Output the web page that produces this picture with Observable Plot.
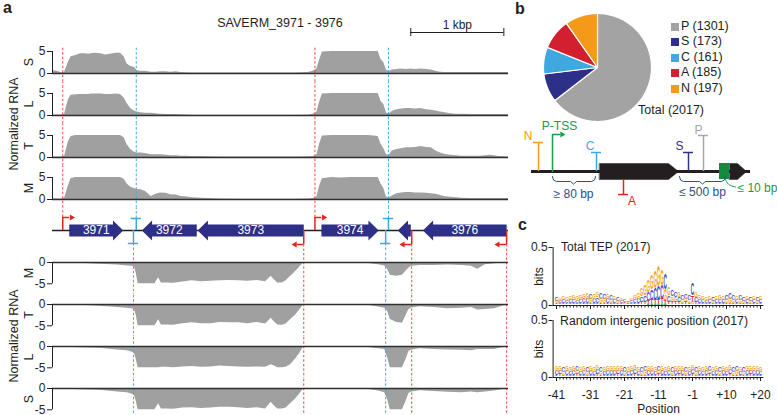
<!DOCTYPE html>
<html>
<head>
<meta charset="utf-8">
<script src="https://cdn.jsdelivr.net/npm/d3@7"></script>
<script src="https://cdn.jsdelivr.net/npm/@observablehq/plot@0.6"></script>
<style>
  html, body { margin: 0; padding: 0; background: #fff; }
  #fig { position: relative; width: 777px; height: 415px; overflow: hidden; background: #fff;
         font-family: "Liberation Sans", Arial, Helvetica, sans-serif; color: #231f20; }
</style>
</head>
<body>
<div id="fig"></div>
<script>
const FONT = '"Liberation Sans", Arial, Helvetica, sans-serif';
const INK = "#231f20", GRAY = "#a0a0a0", RED = "#e3241b", REDDASH = "#ef4a3c", SKY = "#3ea8df",
      NAVY = "#2e2f86", ORANGE = "#f49a18", GREEN = "#1b9a4a", BRACE = "#2c5186";

// ---------------- panel a data ----------------
const xDomainBp = [0, 4900];
const topTrackNames = ["S", "L", "T", "M"];
const topPos = [0,50,100,130,170,200,250,300,350,390,420,460,520,570,620,680,730,770,800,840,880,910,950,1000,1060,1110,1160,1220,1270,1330,1380,1430,1500,1600,1800,2000,2200,2400,2600,2750,2800,2840,2870,2900,3000,3100,3200,3300,3400,3500,3530,3560,3590,3620,3650,3700,3750,3800,3850,3900,3960,4020,4070,4120,4170,4220,4280,4340,4400,4500,4600,4700,4800,4900];
const topS = [0.6,0.5,0.15,0.3,2.5,3.8,4.1,4.5,4.5,4.4, 4.5,4.6,4.5,4.2,4.4,4.6,4.6,3.8,2.2,1.6, 1.4,0.6,0.5,0.5,0.3,0.3,0.4,0.4,0.3,0.4, 0.2,0.15,0.1,0.1,0.1,0.1,0.1,0.1,0.1,0.2, 0.5,1.0,3.0,4.9,5,5,5,5,5,5, 3.2,2.5,0.7,0.5,0.8,0.9,1.0,0.9,1.0,0.9, 1.0,0.9,0.8,0.5,0.3,0.2,0.2,0.2,0.2,0.2, 0.2,0.2,0.2,0.2];
const topL = [0.1,0.1,0.1,0.3,3.5,4.6,4.7,4.8,4.8,4.8, 4.9,4.9,4.9,4.8,4.8,4.9,4.8,4.0,2.8,1.6, 1.0,0.8,0.6,0.5,0.5,0.4,0.3,0.2,0.2,0.2, 0.15,0.1,0.05,0.05,0.05,0.05,0.05,0.05,0.05,0.1, 0.3,0.7,3.0,4.9,5,5,5,5,5,5, 3.2,2.5,0.5,0.4,0.9,1.3,1.5,1.6,1.6,1.5, 1.6,1.3,1.2,1.0,0.8,0.6,0.4,0.3,0.3,0.2, 0.2,0.2,0.2,0.2];
const topT = [0.1,0.1,0.1,0.3,3.5,4.8,5,5,5,5, 5,5,5,5,5,5,5,4.5,3.0,1.8, 1.2,1.0,1.0,0.9,0.6,0.6,0.6,0.5,0.4,0.4, 0.3,0.3,0.2,0.2,0.1,0.1,0.1,0.1,0.1,0.15, 0.2,0.5,3.0,4.9,5,5,5,5,5,4.8, 3.0,2.0,0.6,0.5,1.5,1.8,2.0,2.2,2.2,2.3, 2.5,2.3,2.2,1.5,1.0,0.7,0.5,0.4,0.3,0.3, 0.3,0.5,0.2,0.1];
const topM = [0.1,0.1,0.1,0.3,3.0,4.8,5,5,5,5, 5,5,5,5,5,5,5,4.6,3.6,2.8, 2.5,2.3,2.2,1.8,0.7,1.2,1.5,1.4,1.1,1.0, 0.7,0.6,0.4,0.3,0.1,0.05,0.05,0.05,0.05,0.1, 0.2,0.5,3.0,4.7,5,4.9,5,5,5,5, 3.5,2.5,0.5,0.4,0.8,1.3,1.5,1.6,1.6,1.5, 1.5,1.4,1.3,1.2,0.9,0.6,0.5,0.4,0.3,0.2, 0.2,0.2,0.2,0.2];

const bottomTrackNames = ["M", "T", "L", "S"];
const bottomPos = [0,300,500,700,800,850,880,900,920,1000,1100,1140,1170,1220,1300,1400,1500,1600,1700,1800,1900,2000,2100,2200,2290,2350,2380,2420,2470,2510,2560,2610,2660,2700,3000,3300,3420,3500,3570,3600,3630,3700,3760,3800,3830,3860,3950,4100,4250,4400,4500,4570,4650,4750,4850,4900];
const bottomM = [0,0.2,0.4,0.6,0.8,0.9,1.0,2.5,5,5, 5,3.6,4.8,4.8,4.9,4.6,4.3,4.5,4.4,4.3, 4.2,4.3,4.4,4.2,4.5,3.2,4.0,4.8,4.8,4.3, 3.2,2.2,1.0,0,0,0,0.3,0.5,0.8,1.5, 3.0,3.2,3.0,2.0,1.3,0.9,0.7,0.7,0.6,0.7, 0.9,1.6,0.5,0.3,0.1,0];
const bottomT = [0,0.2,0.4,0.7,0.9,1.0,1.1,2.5,5,5, 5,3.6,4.8,4.8,4.9,4.5,4.3,4.5,4.5,4.2, 4.3,4.3,4.5,4.2,4.6,3.2,4.0,4.8,4.9,4.6, 3.5,2.5,1.2,0,0,0,0.3,0.6,0.9,1.5, 3.5,4.2,4.4,2.5,1.2,0.8,0.5,0.7,1.0,0.9, 0.7,1.3,1.2,1.0,0.3,0];
const bottomL = [0,0.3,0.4,0.8,1.0,1.3,1.5,3.0,5,5, 5,5,4.9,4.9,5,4.8,4.7,4.9,4.8,4.6, 4.7,4.8,4.9,4.8,4.9,4.3,4.5,5,5,4.9, 4.2,3.0,1.5,0,0,0.05,0.3,0.5,0.7,2.5, 5,5,5,3.0,1.2,0.8,0.5,0.7,0.8,0.9, 1.0,0.7,0.7,0.7,0.2,0];
const bottomS = [0,0.3,0.4,0.8,1.0,1.3,1.5,3.0,5,5, 5,3.6,4.8,4.8,4.9,4.6,4.5,4.7,4.6,4.4, 4.4,4.5,4.7,4.5,4.8,3.2,4.0,4.8,4.8,4.6, 3.5,2.5,1.2,0,0,0.05,0.3,0.6,1.0,2.5, 5,5,5,3.0,1.2,0.8,0.5,0.7,0.9,1.0, 0.8,1.0,0.8,0.6,0.2,0];

const tssForward = [110, 2820];
const tssReverse = [2700, 3860, 4880];
const termForward = [900, 3610];
const termReverse = [870, 3580];
const geneIds = ["3971", "3972", "3973", "3974", "3975", "3976"];
const geneStart = [180, 960, 1560, 2890, 3710, 3980];
const geneEnd = [760, 1550, 2700, 3505, 3850, 4880];
const geneStrand = [1, -1, -1, 1, -1, -1];
const scaleBarStart = 3850, scaleBarLength = 1000;

// ---------------- panel b data ----------------
const pieCats = ["P", "S", "C", "A", "N"];
const pieCounts = [1301, 173, 161, 185, 197];
const pieColors = ["#a3a3a3", "#2e2f86", "#3ea8df", "#d2202f", "#f49a18"];

// ---------------- panel c data (bits x 100) ----------------
const BASES = ["A", "C", "G", "T"];
const LOGO_COLORS = ["#2ea44f", "#3a45c8", "#f5a21f", "#e3262b"];
const logoTickIdx = [0, 10, 20, 30, 40, 50, 60];
const logoTickLabels = ["-41", "-31", "-21", "-11", "-1", "+10", "+20"];
const tepA = [1,1,1,1,1,1,1,1,1,1, 1,1,1,1,1,1,1,1,1,1, 1,1,1,1,1,1,1,2,2,2, 2,3,2,1,1,1,1,1,1,1, 1, 1,1,1,1,1,1,1,1,1,1, 1,1,1,1,1,1,1,1,1,1];
const tepC = [3,2,3,2,3,3,2,3,4,4, 5,4,5,6,5,4,4,3,3,2, 2,1,2,3,4,5,6,8,9,10, 12,12,14,6,6,5,4,4,4,4, 10, 4,3,3,2,3,3,3,3,3,5, 6,4,3,4,3,3,3,3,3,3];
const tepG = [2,2,3,3,3,4,4,5,5,6, 4,4,5,4,4,4,3,3,2,2, 1,1,2,4,6,7,9,10,13,15, 18,14,10,7,5,4,4,3,3,3, 2, 5,4,3,3,3,2,3,4,3,3, 4,3,3,3,2,3,2,3,2,3];
const tepT = [1,1,1,1,1,1,1,1,1,1, 1,1,1,1,1,1,1,1,1,1, 1,1,1,1,1,2,2,2,3,3, 3,3,2,2,2,2,2,1,2,1, 6, 2,1,1,1,1,1,1,1,1,1, 1,1,1,1,1,1,1,1,1,1];
const rndA = [1,1,1,1,1,1,1,1,1,1, 1,1,1,1,1,1,1,1,1,1, 1,1,1,1,1,1,1,1,1,1, 1,1,1,1,1,1,1,1,1,1, 1, 1,1,1,1,1,1,1,1,1,1, 1,1,1,1,1,1,1,1,1,1];
const rndC = [4,3,4,4,3,4,4,3,4,5, 4,3,4,4,3,4,4,4,3,4, 4,3,4,4,3,4,5,4,4,3, 4,4,3,4,4,4,3,4,4,3, 4, 5,4,3,4,4,3,4,4,4,3, 4,4,5,3,4,4,3,4,4,3];
const rndG = [4,4,3,5,4,4,3,5,4,3, 4,5,4,3,4,4,5,4,4,5, 3,4,4,4,5,3,4,4,5,4, 3,4,5,4,3,4,5,4,3,4, 4, 3,4,5,4,3,5,4,3,4,5, 4,3,4,4,3,5,4,4,4,5];
const rndT = [1,2,1,1,1,1,2,1,1,1, 1,1,2,1,1,1,1,1,2,1, 1,1,1,2,1,1,1,1,1,1, 2,1,1,1,1,1,2,1,1,1, 2, 1,1,1,1,2,1,1,1,1,1, 2,1,1,1,1,1,2,1,1,1];

// ---------------- helpers ----------------
const fig = document.getElementById("fig");
function place(node, left, top) {
  node.style.position = "absolute";
  node.style.left = left + "px";
  node.style.top = top + "px";
  node.style.background = "transparent";
  node.style.overflow = "hidden";
  node.style.maxWidth = "none";
  fig.appendChild(node);
  return node;
}
function addText(str, {x, baseline, size = 12, weight = 400, color = INK, anchor = "start"}) {
  const d = document.createElement("div");
  d.textContent = str;
  d.style.cssText = `position:absolute;left:${x}px;top:${baseline - 0.8465 * size}px;font-size:${size}px;line-height:${size}px;font-weight:${weight};color:${color};white-space:nowrap;` +
    (anchor === "middle" ? "transform:translateX(-50%);" : anchor === "end" ? "transform:translateX(-100%);" : "");
  fig.appendChild(d);
  return d;
}
function addVText(str, {cx, cy, size = 12.5}) {
  const d = document.createElement("div");
  d.textContent = str;
  d.style.cssText = `position:absolute;left:${cx}px;top:${cy}px;font-size:${size}px;line-height:${size}px;white-space:nowrap;transform:translate(-50%,-50%) rotate(-90deg);`;
  fig.appendChild(d);
}
const baseStyle = {fontFamily: FONT, fontSize: "12px", color: INK, background: "transparent"};

// ---------------- panel a: coverage tracks ----------------
function trackPlot(pos, vals, strand, isFirst) {
  const up = strand > 0;
  const data = pos.map((p, i) => ({p, v: up ? vals[i] : -vals[i]}));
  const reds = up ? tssForward : tssReverse;
  const blues = up ? termForward : termReverse;
  const y1 = up ? -3 : -9, y2 = up ? (isFirst ? 6 : 9) : 4;
  return Plot.plot({
    width: 520, height: 42, marginLeft: 52, marginRight: 12, marginTop: 0, marginBottom: 0,
    style: baseStyle,
    x: {domain: xDomainBp, axis: null},
    y: up ? {domain: [0, 5], insetTop: 11, insetBottom: 9} : {domain: [-5, 0], insetTop: 10, insetBottom: 10.7},
    marks: [
      Plot.areaY(data, {x: "p", y: "v", fill: GRAY}),
      Plot.ruleX(reds, {x: d => d, y1: () => y1, y2: () => y2, stroke: REDDASH, strokeWidth: 1, strokeDasharray: "2.5,2"}),
      Plot.ruleX(blues, {x: d => d, y1: () => y1, y2: () => y2, stroke: SKY, strokeWidth: 1, strokeDasharray: "2.5,2"}),
      Plot.ruleY([0], {stroke: "#2f2f2f", strokeWidth: 1.6}),
      Plot.ruleX([0], {y1: () => (up ? 0 : -5), y2: () => (up ? 5 : 0), stroke: INK, strokeWidth: 1}),
      Plot.axisY({ticks: up ? [0, 5] : [0, -5], tickSize: 5, tickPadding: 2, tickFormat: d => String(d), label: null, fontSize: 12})
    ]
  });
}
const topVals = [topS, topL, topT, topM];
topTrackNames.forEach((n, k) => {
  place(trackPlot(topPos, topVals[k], 1, k === 0), 0, 40 + 42 * k);
  addVText(n, {cx: 28.5, cy: 40 + 42 * k + 22, size: 12.5});
});
const botVals = [bottomM, bottomT, bottomL, bottomS];
bottomTrackNames.forEach((n, k) => {
  place(trackPlot(bottomPos, botVals[k], -1, false), 0, 252 + 42 * k);
  addVText(n, {cx: 28.5, cy: 252 + 42 * k + 20.5, size: 12.5});
});

// ---------------- panel a: gene map ----------------
const HEAD = 110;
const genePolys = geneIds.flatMap((id, i) => {
  const s = geneStart[i], e = geneEnd[i];
  const h = Math.min(HEAD, (e - s) * 0.8);
  const pts = geneStrand[i] > 0
    ? [[s, -6], [e - h, -6], [e - h, -10], [e, 0], [e - h, 10], [e - h, 6], [s, 6]]
    : [[e, -6], [s + h, -6], [s + h, -10], [s, 0], [s + h, 10], [s + h, 6], [e, 6]];
  return pts.map(([x, y]) => ({id, x, y}));
});
const geneLabels = geneIds.map((id, i) => ({id, x: (geneStart[i] + geneEnd[i]) / 2, len: geneEnd[i] - geneStart[i]})).filter(d => d.len > 300);
const geneMap = Plot.plot({
  width: 520, height: 44, marginLeft: 52, marginRight: 12, marginTop: 0, marginBottom: 0,
  style: baseStyle,
  x: {domain: xDomainBp, axis: null},
  y: {domain: [-22, 22], axis: null},
  marks: [
    Plot.ruleX(tssForward, {x: d => d, y1: () => 13, y2: () => 22, stroke: REDDASH, strokeDasharray: "2.5,2"}),
    Plot.ruleX(termForward, {x: d => d, y1: () => 12, y2: () => 22, stroke: SKY, strokeDasharray: "2.5,2"}),
    Plot.ruleX(tssReverse, {x: d => d, y1: () => -14, y2: () => -22, stroke: REDDASH, strokeDasharray: "2.5,2"}),
    Plot.ruleX(termReverse, {x: d => d, y1: () => -13, y2: () => -22, stroke: SKY, strokeDasharray: "2.5,2"}),
    Plot.ruleY([0], {stroke: INK, strokeWidth: 1.5}),
    Plot.line(genePolys, {x: "x", y: "y", z: "id", fill: NAVY, stroke: "none", curve: "linear-closed"}),
    Plot.text(geneLabels, {x: "x", y: () => 0, text: "id", fill: "white", fontSize: 12, lineAnchor: "middle"}),
    Plot.ruleX(tssForward, {x: d => d, y1: () => 0, y2: () => 13, stroke: RED, strokeWidth: 1.5}),
    Plot.ruleY(tssForward, {y: () => 13, x1: d => d, x2: d => d + 75, stroke: RED, strokeWidth: 1.5}),
    Plot.dot(tssForward, {x: d => d + 95, y: () => 13, symbol: "triangle", r: 2.2, fill: RED, stroke: "none", rotate: 90}),
    Plot.ruleX(tssReverse, {x: d => d, y1: () => 0, y2: () => -14, stroke: RED, strokeWidth: 1.5}),
    Plot.ruleY(tssReverse, {y: () => -14, x1: d => d, x2: d => d - 75, stroke: RED, strokeWidth: 1.5}),
    Plot.dot(tssReverse, {x: d => d - 95, y: () => -14, symbol: "triangle", r: 2.2, fill: RED, stroke: "none", rotate: -90}),
    Plot.ruleX(termForward, {x: d => d, y1: () => 0, y2: () => 12, stroke: SKY, strokeWidth: 1.5}),
    Plot.ruleY(termForward, {y: () => 12, x1: d => d - 55, x2: d => d + 55, stroke: SKY, strokeWidth: 1.5}),
    Plot.ruleX(termReverse, {x: d => d, y1: () => 0, y2: () => -13, stroke: SKY, strokeWidth: 1.5}),
    Plot.ruleY(termReverse, {y: () => -13, x1: d => d - 55, x2: d => d + 55, stroke: SKY, strokeWidth: 1.5})
  ]
});
place(geneMap, 0, 208);

// ---------------- panel a: header (scale bar) ----------------
const header = Plot.plot({
  width: 520, height: 40, marginLeft: 52, marginRight: 12, marginTop: 0, marginBottom: 0,
  style: baseStyle,
  x: {domain: xDomainBp, axis: null},
  y: {domain: [0, 40], range: [0, 40], axis: null},
  marks: [
    Plot.ruleY([scaleBarStart], {y: () => 32, x1: d => d, x2: d => d + scaleBarLength, stroke: INK, strokeWidth: 1}),
    Plot.ruleX([scaleBarStart, scaleBarStart + scaleBarLength], {x: d => d, y1: () => 28, y2: () => 36, stroke: INK, strokeWidth: 1}),
    Plot.text([scaleBarStart], {x: d => d + scaleBarLength / 2, y: () => 28, text: () => "1 kbp", fontSize: 12, lineAnchor: "bottom"})
  ]
});
place(header, 0, 0);

// ---------------- panel b: pie ----------------
const pieArcs = d3.pie().sort(null)(pieCounts);
const pieMarks = pieArcs.map((a, k) => {
  const pts = [[0, 0]];
  const n = Math.max(2, Math.ceil((a.endAngle - a.startAngle) / 0.02));
  for (let j = 0; j <= n; j++) {
    const t = a.startAngle + (a.endAngle - a.startAngle) * j / n;
    pts.push([Math.sin(t), Math.cos(t)]);
  }
  return Plot.line(pts, {fill: pieColors[k], stroke: "#fff", strokeWidth: 1.2, curve: "linear-closed", strokeLinejoin: "round"});
});
const pie = Plot.plot({
  width: 112, height: 112, margin: 2, style: baseStyle,
  x: {domain: [-1, 1], axis: null}, y: {domain: [-1, 1], axis: null},
  marks: pieMarks
});
place(pie, 541, 10.5);

// ---------------- panel b: schematic ----------------
const schemTerms = [
  {lab: "N", x: 538, top: 142, base: 171, color: ORANGE, lx: 527.5, ly: 139},
  {lab: "C", x: 596, top: 152, base: 171, color: SKY, lx: 589.5, ly: 149.5},
  {lab: "A", x: 623, top: 194, base: 179, color: RED, lx: 631.5, ly: 204},
  {lab: "S", x: 688, top: 152, base: 171, color: NAVY, lx: 679, ly: 149.5},
  {lab: "P", x: 703, top: 135, base: 171, color: "#a6a6a6", lx: 698, ly: 133}
];
const schemBlock = [[599, 163], [668, 163], [678, 171], [668, 179], [599, 179]];
const schemBlock2 = [[729, 163], [737, 163], [746, 171], [737, 179], [729, 179]];
const brace1 = [[552, 176], [553, 179.5], [556, 181], [570, 181], [573, 183.5], [576, 181], [591, 181], [594, 179.5], [595, 176]];
const brace2 = [[679, 176], [680, 179.5], [683, 181], [699, 181], [702, 183.5], [705, 181], [721, 181], [724, 179.5], [725, 176]];
const connector = [[725, 179], [727, 183], [730, 185.5], [735, 186.5]];
const tssArrow = [[552, 171], [552, 134], [559, 134]];
const schemLabels = [
  {t: "P-TSS", x: 559, y: 129.5, color: GREEN, anchor: "middle"},
  {t: "\u2265 80 bp", x: 573, y: 197, color: BRACE, anchor: "middle"},
  {t: "\u2264 500 bp", x: 702, y: 195.5, color: BRACE, anchor: "middle"},
  {t: "\u2264 10 bp", x: 737, y: 191, color: GREEN, anchor: "start"}
];
const schem = Plot.plot({
  width: 257, height: 112, margin: 0, style: baseStyle,
  x: {domain: [520, 777], axis: null},
  y: {domain: [230, 118], axis: null},
  marks: [
    Plot.ruleY([171], {y: d => d, x1: () => 531, x2: () => 750, stroke: INK, strokeWidth: 3}),
    Plot.line(schemBlock, {fill: INK, stroke: INK, strokeWidth: 0.5, curve: "linear-closed"}),
    Plot.line(schemBlock2, {fill: INK, stroke: INK, strokeWidth: 0.5, curve: "linear-closed"}),
    Plot.rect([719], {x1: d => d, x2: d => d + 10, y1: () => 163, y2: () => 179, fill: "#138a3e"}),
    ...schemTerms.flatMap(t => [
      Plot.ruleX([t], {x: "x", y1: "base", y2: "top", stroke: t.color, strokeWidth: 1.5}),
      Plot.ruleY([t], {y: "top", x1: d => d.x - 5, x2: d => d.x + 5, stroke: t.color, strokeWidth: 1.5}),
      Plot.text([t], {x: "lx", y: "ly", text: "lab", fill: t.color, fontSize: 12, lineAnchor: "bottom"})
    ]),
    Plot.line(tssArrow, {stroke: GREEN, strokeWidth: 1.5}),
    Plot.dot([tssArrow[2]], {x: d => d[0] + 2.5, y: d => d[1], symbol: "triangle", r: 2.2, fill: GREEN, stroke: "none", rotate: 90}),
    Plot.line(brace1, {stroke: BRACE, strokeWidth: 1}),
    Plot.line(brace2, {stroke: BRACE, strokeWidth: 1}),
    Plot.line(connector, {stroke: GREEN, strokeWidth: 1, curve: "basis"}),
    ...schemLabels.map(l => Plot.text([l], {x: "x", y: "y", text: "t", fill: l.color, fontSize: 12, lineAnchor: "bottom", textAnchor: l.anchor}))
  ]
});
place(schem, 520, 118);

// ---------------- panel c: sequence logos ----------------
const LOGO_FS = 20, COLW = 3.4;
function stackLogo(A, C, G, T) {
  const cols = {A, C, G, T};
  const out = [];
  for (let i = 0; i < A.length; i++) {
    const ls = BASES.map(b => ({b, h: cols[b][i] / 100})).sort((p, q) => p.h - q.h);
    let y0 = 0;
    for (const l of ls) { out.push({i, b: l.b, y0, h: l.h}); y0 += l.h; }
  }
  return out;
}
function logoPlot(letters, {top, height, mb, labeled}) {
  const mt = 9;
  const pxPerBit = (height - mt - mb) / 0.5;
  const groups = BASES.map(b => letters.filter(d => d.b === b && d.h > 0));
  const plot = Plot.plot({
    width: 257, height, marginLeft: 32.6, marginRight: 13.6, marginTop: mt, marginBottom: mb,
    style: baseStyle,
    x: {domain: [-1, 61]},
    y: {domain: [0, 0.5]},
    marks: [
      ...groups.map((rows, k) => Plot.text(rows, {x: "i", y: "y0", text: "b", fill: LOGO_COLORS[k], fontSize: LOGO_FS,
                                                  fontWeight: "bold", textAnchor: "middle", lineAnchor: "bottom"})),
      Plot.ruleY([0], {stroke: INK, strokeWidth: 1}),
      Plot.ruleX([-1], {y1: () => 0, y2: () => 0.5, stroke: INK, strokeWidth: 1}),
      Plot.axisY({ticks: [0, 0.5], tickSize: 4, tickPadding: 1.5, tickFormat: d => String(d),
                  label: "bits", labelAnchor: "center", labelArrow: "none", labelOffset: 18.5, fontSize: 12}),
      Plot.axisX({ticks: d3.range(61), tickSize: 2.5, tickFormat: () => "", label: null}),
      Plot.axisX({ticks: logoTickIdx, tickSize: 4, tickPadding: 9,
                  tickFormat: labeled ? (d => logoTickLabels[logoTickIdx.indexOf(d)]) : (() => ""),
                  label: labeled ? "Position" : null, labelAnchor: "center", labelArrow: "none", labelOffset: 35, fontSize: 12})
    ]
  });
  place(plot, 520, top);
  plot.querySelectorAll('g[aria-label="text"]').forEach((g, k) => {
    const rows = groups[k];
    if (!rows) return;
    g.querySelectorAll("text").forEach((t, j) => {
      const d = rows[j];
      if (!d) return;
      const w = t.getBBox().width || 1;
      const sx = COLW / w, sy = d.h * pxPerBit / (0.72 * LOGO_FS);
      let tr = t.getAttribute("transform");
      if (!tr) {
        const x = +t.getAttribute("x") || 0, y = +t.getAttribute("y") || 0;
        t.removeAttribute("x"); t.removeAttribute("y");
        tr = `translate(${x},${y})`;
      }
      t.setAttribute("transform", `${tr} scale(${sx},${sy})`);
    });
  });
  return plot;
}
logoPlot(stackLogo(tepA, tepC, tepG, tepT), {top: 238, height: 75, mb: 8, labeled: false});
logoPlot(stackLogo(rndA, rndC, rndG, rndT), {top: 311, height: 104, mb: 38, labeled: true});

// ---------------- text ----------------
addText("a", {x: 3, baseline: 14, size: 16, weight: 700});
addText("b", {x: 515, baseline: 14.5, size: 16, weight: 700});
addText("c", {x: 518, baseline: 231, size: 16, weight: 700});
addText("SAVERM_3971 - 3976", {x: 280, baseline: 28, size: 12.5, anchor: "middle"});
addVText("Normalized RNA", {cx: 13.5, cy: 124, size: 12.5});
addVText("Normalized RNA", {cx: 13.5, cy: 336, size: 12.5});
const legendBase = [30.5, 46, 61.5, 77, 92.5];
pieCats.forEach((c, k) => {
  const sq = document.createElement("div");
  sq.style.cssText = `position:absolute;left:671px;top:${legendBase[k] - 8}px;width:8px;height:8px;background:${pieColors[k]};`;
  fig.appendChild(sq);
  addText(`${c} (${pieCounts[k]})`, {x: 681, baseline: legendBase[k], size: 12.5});
});
addText(`Total (${d3.sum(pieCounts)})`, {x: 638, baseline: 114.5, size: 12.5});
addText("Total TEP (2017)", {x: 561, baseline: 251.5, size: 12});
addText("Random intergenic position (2017)", {x: 560, baseline: 325.5, size: 12.3});
</script>
</body>
</html>
